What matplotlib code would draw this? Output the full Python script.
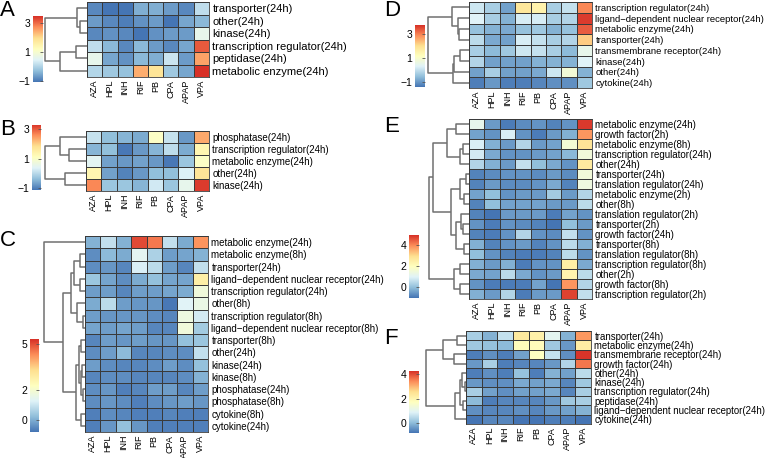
import numpy as np
import matplotlib
matplotlib.use("Agg")
import matplotlib.pyplot as plt
from matplotlib.colors import LinearSegmentedColormap

plt.rcParams['font.family'] = ['Liberation Sans', 'DejaVu Sans']

W, H = 766, 458

drugs = ["AZA", "HPL", "INH", "RIF", "PB", "CPA", "APAP", "VPA"]

# ---- panel A
a_rows = ["transporter(24h)", "other(24h)", "kinase(24h)",
          "transcription regulator(24h)", "peptidase(24h)", "metabolic enzyme(24h)"]
a_vals = [[-0.9, -1.1, -1.1, -0.5, -0.5, -0.7, -0.9, 0.1],
          [-0.7, -0.9, -1.0, -0.8, -0.7, -1.1, -0.6, -0.4],
          [-0.9, -0.8, -0.9, -1.2, -0.8, -0.7, -0.7, 0.6],
          [0.1, -0.4, -0.9, -0.4, -0.7, -0.9, -0.6, 3.1],
          [0.6, -0.6, -0.8, -0.4, -0.5, 0.2, -0.7, 2.5],
          [0.0, -0.2, -0.3, 2.4, 1.8, -0.2, -0.6, 3.6]]
a_links = [(1, 2, 7.3), (0, 6, 10), (3, 4, 11.3), (8, 5, 27.3), (7, 9, 42.3)]

# ---- panel B
b_rows = ["phosphatase(24h)", "transcription regulator(24h)", "metabolic enzyme(24h)",
          "other(24h)", "kinase(24h)"]
b_vals = [[0.1, -0.4, -0.5, -0.6, 1.0, 0.1, -0.8, 2.3],
          [-0.5, -0.4, -1.1, -0.8, -0.5, 0.0, -0.6, 1.3],
          [0.4, -0.7, -0.8, -0.7, -0.8, -1.1, -0.3, 1.0],
          [1.3, -0.7, -1.0, -0.8, -0.4, -0.4, 0.3, 1.7],
          [2.6, -0.3, -0.3, -0.5, 0.2, -0.3, 0.5, 3.2]]
b_links = [(1, 2, 16.7), (0, 5, 26), (3, 4, 21), (6, 7, 41)]

# ---- panel C
c_rows = ["metabolic enzyme(24h)", "metabolic enzyme(8h)", "transporter(24h)",
          "ligand\u2212dependent nuclear receptor(24h)", "transcription regulator(24h)",
          "other(8h)", "transcription regulator(8h)",
          "ligand\u2212dependent nuclear receptor(8h)", "transporter(8h)", "other(24h)",
          "kinase(24h)", "kinase(8h)", "phosphatase(24h)", "phosphatase(8h)",
          "cytokine(8h)", "cytokine(24h)"]
c_vals = [[0.1, 0.9, 0.1, 5.0, 4.5, 0.9, 0.0, 4.2],
          [-0.4, 0.2, 0.0, 1.4, 0.6, -0.2, -0.1, 0.1],
          [-0.4, -0.3, -0.5, 1.2, 0.8, -0.2, -0.5, 0.9],
          [0.4, -0.1, -0.4, 0.0, 0.3, -0.1, -0.1, 2.8],
          [-0.2, -0.2, -0.5, -0.2, -0.2, -0.1, 0.0, 1.8],
          [0.0, 0.8, -0.2, -0.3, -0.3, -0.7, 1.3, 1.6],
          [-0.2, -0.3, -0.3, -0.3, -0.4, -0.5, 1.7, 1.1],
          [-0.1, -0.2, -0.1, -0.2, -0.5, -0.5, 1.8, 0.5],
          [-0.5, -0.2, -0.3, -0.2, -0.3, -0.3, 0.3, 0.4],
          [-0.4, -0.2, 0.2, -0.5, -0.5, -0.4, -0.4, 0.9],
          [-0.2, -0.4, -0.5, -0.5, -0.4, -0.2, -0.4, 0.3],
          [-0.5, -0.4, -0.4, -0.5, -0.5, -0.5, -0.4, 0.1],
          [-0.4, -0.3, -0.6, -0.5, -0.2, -0.2, -0.5, -0.2],
          [-0.4, -0.3, -0.4, -0.6, -0.4, -0.3, -0.2, -0.3],
          [-0.6, -0.4, -0.5, -0.6, -0.6, -0.5, -0.6, -0.6],
          [-0.6, -0.3, 0.3, -0.3, -0.6, -0.6, -0.6, -0.6]]
c_links = [(1, 2, 5), (3, 4, 5), (16, 17, 11), (6, 7, 1.7), (5, 19, 7.7),
           (18, 20, 14.3), (8, 9, 3.7), (10, 11, 2.7), (12, 13, 1.7), (23, 24, 4.3),
           (22, 25, 6), (14, 15, 4.3), (26, 27, 9.3), (21, 28, 21.7), (0, 29, 41)]

# ---- panel D
d_rows = ["transcription regulator(24h)", "ligand\u2212dependent nuclear receptor(24h)",
          "metabolic enzyme(24h)", "transporter(24h)", "transmembrane receptor(24h)",
          "kinase(24h)", "other(24h)", "cytokine(24h)"]
d_vals = [[0.1, -0.3, -0.9, 1.8, 1.5, -0.3, 0.0, 2.9],
          [0.3, -0.3, -0.7, 0.2, 0.2, -0.3, -0.2, 3.6],
          [-0.5, -0.7, -0.8, -0.5, -0.4, -0.7, -0.5, 3.3],
          [-0.1, -0.8, -0.9, 0.2, 0.0, -0.3, -0.2, 2.2],
          [-0.3, -0.6, -0.4, 0.1, 0.0, -0.3, -0.6, 0.5],
          [-0.2, -0.9, -0.9, -0.9, -0.7, -0.7, -0.7, 0.3],
          [-0.9, -0.3, -0.9, -0.9, -0.8, 0.1, 0.8, -0.7],
          [-1.3, -1.0, -1.3, -1.3, -1.2, -1.1, -1.1, -0.4]]
d_links = [(2, 3, 9.7), (1, 8, 10.7), (0, 9, 16.7), (4, 5, 9), (11, 6, 14.7),
           (12, 7, 15.7), (10, 13, 40.7)]

# ---- panel E
e_rows = ["metabolic enzyme(24h)", "growth factor(2h)", "metabolic enzyme(8h)",
          "transcription regulator(24h)", "other(24h)", "transporter(24h)",
          "translation regulator(24h)", "metabolic enzyme(2h)", "other(8h)",
          "translation regulator(2h)", "transporter(2h)", "growth factor(24h)",
          "transporter(8h)", "translation regulator(8h)", "transcription regulator(8h)",
          "other(2h)", "growth factor(8h)", "transcription regulator(2h)"]
e_vals = [[1.2, -0.5, -0.9, -0.7, -0.6, -0.8, -0.6, 4.8],
          [-0.4, -0.6, 0.9, -0.6, -0.9, -0.5, -0.2, 3.8],
          [0.9, -0.2, -0.5, 0.4, -0.5, -0.4, 1.6, 2.8],
          [0.8, -0.3, -0.6, -0.6, -0.5, -0.4, -0.1, 1.5],
          [0.4, -0.2, -0.5, 0.6, 0.0, -0.3, -0.6, 2.6],
          [-0.8, -0.7, -0.6, -0.6, -0.7, -0.5, -0.7, 1.5],
          [-0.8, -0.5, -0.7, -0.7, -0.6, -0.3, -0.8, 1.4],
          [-0.4, 0.0, -0.6, -0.5, -0.5, 0.2, -0.5, 0.4],
          [-0.8, 0.0, -0.4, -0.4, -0.4, -0.5, -0.5, 0.5],
          [-0.8, -1.0, -0.5, -0.5, -0.5, -0.9, -0.4, -0.6],
          [-0.6, -0.9, -0.6, -0.7, -0.8, -1.0, 0.0, -0.5],
          [-0.8, -0.9, -0.6, 0.4, -0.6, -0.7, 0.6, -0.6],
          [-0.2, -0.8, -0.6, -0.5, -0.8, -0.6, 0.5, -0.2],
          [0.0, -0.6, -0.8, -0.9, -0.9, -0.8, 0.5, -0.6],
          [-0.2, -0.5, -0.2, -0.9, -0.6, -0.6, 2.5, -0.3],
          [-0.3, -0.4, 0.5, -0.3, -0.6, -0.5, 2.3, 0.5],
          [-0.6, -0.9, -0.9, -0.9, -0.4, -1.0, 3.8, 0.4],
          [-0.2, -0.5, 0.4, -0.9, -0.5, -0.5, 4.7, 0.6]]
e_links = [(0, 1, 13.3), (2, 3, 6), (19, 4, 9), (18, 20, 21.7),
           (5, 6, 3.3), (7, 8, 5), (22, 23, 9), (10, 11, 5.7), (9, 25, 8.3),
           (12, 13, 5), (26, 27, 13.3), (24, 28, 18.3), (21, 29, 35.7),
           (14, 15, 9), (16, 17, 9), (31, 32, 15), (30, 33, 40)]

# ---- panel F
f_rows = ["transporter(24h)", "metabolic enzyme(24h)", "transmembrane receptor(24h)",
          "growth factor(24h)", "other(24h)", "kinase(24h)", "transcription regulator(24h)",
          "peptidase(24h)", "ligand\u2212dependent nuclear receptor(24h)", "cytokine(24h)"]
f_vals = [[0.3, -0.1, 0.6, 2.3, 2.1, 1.0, -0.1, 3.3],
          [0.2, 0.1, 0.0, 1.8, 1.8, 0.2, -0.4, 2.2],
          [-0.7, -0.5, -0.7, -0.3, 1.7, 0.6, -0.5, 4.2],
          [-0.4, 0.3, -0.7, -0.6, -0.6, -0.4, 0.4, 3.6],
          [-0.7, -0.5, -0.7, 0.1, -0.7, -0.1, -0.3, 0.5],
          [-0.4, -0.5, -0.5, -0.2, -0.3, -0.2, -0.6, 0.2],
          [0.3, -0.3, -0.5, -0.3, -0.3, -0.2, -0.6, 0.3],
          [0.0, -0.7, -0.6, -0.6, -0.6, -0.4, 0.2, 0.3],
          [-0.5, -0.6, -0.6, -0.5, -0.6, -0.4, -0.3, -0.1],
          [-0.8, -0.6, -0.6, -0.8, -0.8, -0.7, -0.7, -0.8]]
f_links = [(0, 1, 8.7), (2, 3, 11.7), (10, 11, 22.7), (5, 6, 1), (4, 13, 4.3),
           (7, 8, 2.7), (14, 15, 6), (16, 9, 11), (12, 17, 40)]

cmap = LinearSegmentedColormap.from_list(
    "rdylbu", ["#4575B4", "#91BFDB", "#E0F3F8", "#FFFFBF", "#FEE090", "#FC8D59", "#D73027"])


def box(l, t, r, b):
    return [l / W, 1 - b / H, (r - l) / W, (b - t) / H]


def draw_dendro(ax, links, n):
    ys = list(np.arange(n) + 0.5)
    hs = [0.0] * n
    for a, b, h in links:
        ax.plot([hs[a], h, h, hs[b]], [ys[a], ys[a], ys[b], ys[b]],
                color="#707070", lw=1.1, clip_on=False, solid_capstyle="butt")
        ys.append((ys[a] + ys[b]) / 2)
        hs.append(h)
    ax.set_xlim(max(hs), 0)
    ax.set_ylim(n, 0)
    ax.axis("off")


def panel(fig, letter, letter_xy, rows, vals, links, heat, cbar, vrange, ticks, fs):
    vmin, vmax = vrange
    n = len(rows)
    l, t, r, b = heat
    ax = fig.add_axes(box(l, t, r, b))
    ax.pcolormesh(np.array(vals), cmap=cmap, vmin=vmin, vmax=vmax,
                  edgecolors="#3a3a3a", linewidth=0.5)
    ax.set_xlim(0, len(drugs))
    ax.set_ylim(n, 0)
    ax.set_xticks(np.arange(len(drugs)) + 0.5, drugs, rotation=90, fontsize=6.5)
    ax.set_yticks(np.arange(n) + 0.5, rows, fontsize=fs)
    ax.yaxis.tick_right()
    ax.tick_params(axis="y", length=0, pad=2.5)
    ax.tick_params(axis="x", length=0, pad=2)
    for s in ax.spines.values():
        s.set_color("#3a3a3a")
        s.set_linewidth(0.6)

    root = max(h for _, _, h in links)
    dax = fig.add_axes(box(l - root, t, l, b))
    draw_dendro(dax, links, n)

    cl, ct, cr, cb = cbar
    cax = fig.add_axes(box(cl, ct, cr, cb))
    grad = np.linspace(vmax, vmin, 256)[:, None]
    cax.imshow(grad, aspect="auto", cmap=cmap, vmin=vmin, vmax=vmax,
               extent=[0, 1, vmin, vmax])
    cax.set_xticks([])
    cax.set_yticks(ticks, [str(v).replace("-", "\u2212") for v in ticks], fontsize=7.5)
    cax.tick_params(axis="y", left=False, right=True, direction="in",
                    length=2, width=0.6, color="#555555", pad=2)
    for s in cax.spines.values():
        s.set_visible(False)

    fig.text(letter_xy[0] / W, 1 - letter_xy[1] / H, letter, fontsize=16,
             ha="left", va="top")


fig = plt.figure(figsize=(W / 100, H / 100), dpi=100)

panel(fig, "A", (0, 0), a_rows, a_vals, a_links, (87, 2, 209, 77),
      (33, 16, 43, 82), (-1.1, 3.45), [-1, 1, 3], 8.0)
panel(fig, "B", (0, 119), b_rows, b_vals, b_links, (86, 131, 209, 191),
      (32, 125, 41, 190), (-1.15, 3.3), [-1, 1, 3], 7.0)
panel(fig, "C", (0, 230), c_rows, c_vals, c_links, (85, 236, 208, 432),
      (30, 339, 39, 432), (-0.75, 5.3), [0, 2, 5], 7.0)
panel(fig, "D", (384, 0), d_rows, d_vals, d_links, (469, 2, 592, 88),
      (415, 25, 425, 87), (-1.4, 3.7), [-1, 1, 3], 6.8)
panel(fig, "E", (384, 116), e_rows, e_vals, e_links, (469, 119, 592, 299),
      (409, 235, 419, 298), (-1.0, 4.9), [0, 2, 4], 7.0)
panel(fig, "F", (384, 328), f_rows, f_vals, f_links, (466, 331, 591, 424),
      (409, 371, 419, 433), (-0.8, 4.25), [0, 2, 4], 6.9)

fig.savefig("out.png", dpi=100)
